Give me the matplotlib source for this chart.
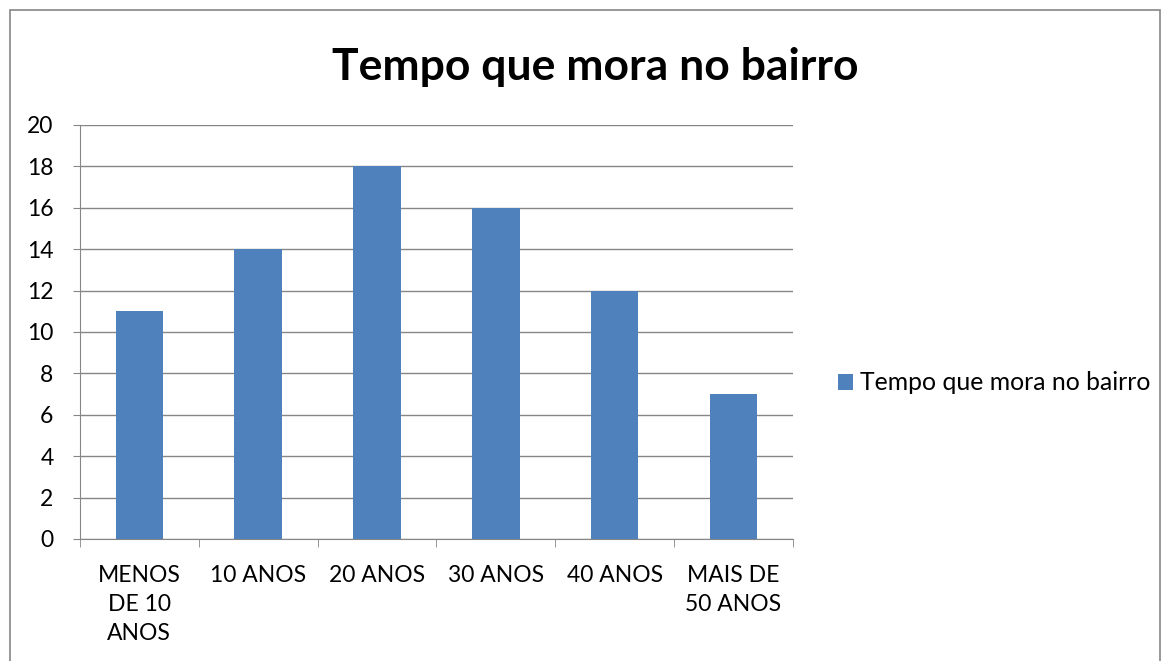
import matplotlib.pyplot as plt
from matplotlib.patches import Rectangle

categorias = ['MENOS\nDE 10\nANOS', '10 ANOS', '20 ANOS', '30 ANOS', '40 ANOS', 'MAIS DE\n50 ANOS']
valores = [11, 14, 18, 16, 12, 7]
serie = 'Tempo que mora no bairro'

plt.rcParams['font.family'] = ['Lato', 'DejaVu Sans']

fig = plt.figure(figsize=(11.62, 6.61), dpi=100)
ax = fig.add_axes([0.0688, 0.1846, 0.6136, 0.6263])

x = list(range(len(categorias)))
ax.bar(x, valores, width=0.4, color='#4F81BD', label=serie, zorder=3)

ax.set_xlim(-0.5, len(categorias) - 0.5)
ax.set_ylim(0, 20)
ax.set_yticks(range(0, 21, 2))
ax.tick_params(axis='y', labelsize=16.5, length=5, color='#868686', pad=14)
ax.grid(axis='y', color='#868686', lw=1, zorder=0)

# category labels centered, tick marks on the boundaries
ax.set_xticks(x)
ax.set_xticklabels(categorias, fontsize=16.5, linespacing=1.45)
ax.tick_params(axis='x', length=0, pad=19)
ax.set_xticks([i - 0.5 for i in range(len(categorias) + 1)], minor=True)
ax.tick_params(axis='x', which='minor', length=6, color='#868686')

for s in ['top', 'right']:
    ax.spines[s].set_visible(False)
for s in ['left', 'bottom']:
    ax.spines[s].set_color('#868686')

fig.text(0.512, 0.898, serie, fontsize=32, fontweight='bold', ha='center', va='center')

ax.legend(loc='center left', bbox_to_anchor=(1.05, 0.377), frameon=False, fontsize=17.8,
          handlelength=0.6, handleheight=0.6, handletextpad=0.25, borderaxespad=0)

fig.patches.append(Rectangle((10 / 1162, -0.1), 1150 / 1162, 1.085, transform=fig.transFigure,
                             fill=False, edgecolor='#868686', lw=1.2))

fig.savefig('out.png', dpi=100)
